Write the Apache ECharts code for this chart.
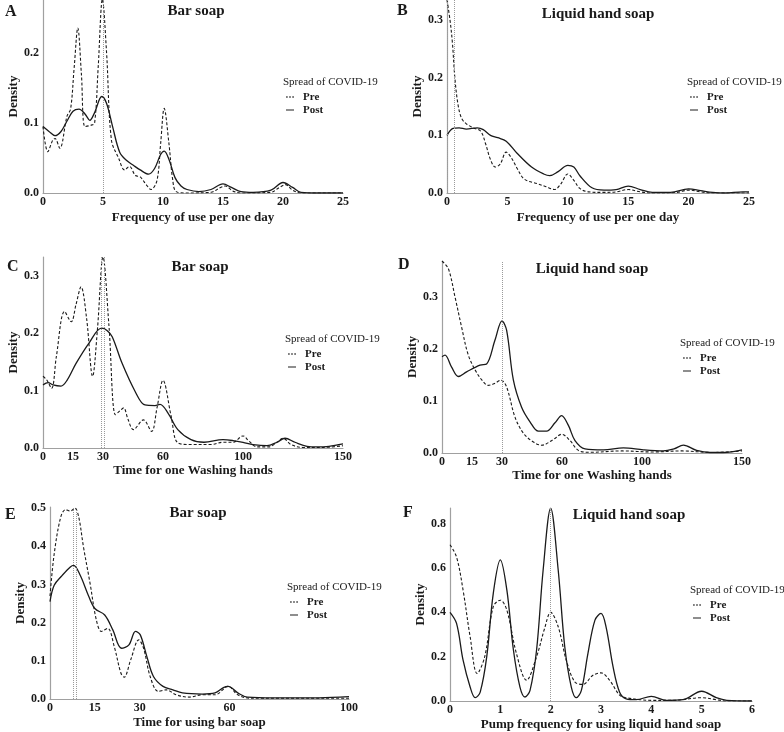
<!DOCTYPE html>
<html><head><meta charset="utf-8">
<script src="https://cdn.jsdelivr.net/npm/echarts@6/dist/echarts.min.js"></script>
<style>html,body{margin:0;padding:0;background:#fff}#c{width:784px;height:732px}</style>
</head><body><div id="c"></div>
<script>
// ---------- DATA ----------
const groupNames = ['Pre', 'Post'];
const legendTitle = 'Spread of COVID-19';
const panelLetters = ['A', 'B', 'C', 'D', 'E', 'F'];
const panelTitles = ['Bar soap', 'Liquid hand soap', 'Bar soap', 'Liquid hand soap', 'Bar soap', 'Liquid hand soap'];
const xNames = ['Frequency of use per one day', 'Frequency of use per one day', 'Time for one Washing hands', 'Time for one Washing hands', 'Time for using bar soap', 'Pump frequency for using liquid hand soap'];
const yName = 'Density';

const xTicksA = [0, 5, 10, 15, 20, 25];
const xTicksB = [0, 5, 10, 15, 20, 25];
const xTicksC = [0, 15, 30, 60, 100, 150];
const xTicksD = [0, 15, 30, 60, 100, 150];
const xTicksE = [0, 15, 30, 60, 100];
const xTicksF = [0, 1, 2, 3, 4, 5, 6];

const refA = [5];
const refB = [0, 0.6];
const refC = [29, 30.5];
const refD = [30];
const refE = [7.7, 8.7];
const refF = [2];

const aPre = [[0,0.095],[0.4,0.059],[0.8,0.075],[1,0.078],[1.4,0.064],[2,0.11],[2.3,0.12],[2.6,0.18],[2.9,0.236],[3.2,0.17],[3.5,0.095],[4,0.097],[4.3,0.1],[4.6,0.18],[4.95,0.277],[5.3,0.2],[5.7,0.076],[6.3,0.05],[6.8,0.033],[7.2,0.038],[7.7,0.025],[8.1,0.023],[8.6,0.012],[9,0.005],[9.5,0.018],[9.8,0.07],[10.1,0.121],[10.5,0.07],[10.8,0.02],[11.1,0.002],[12,0],[14,0.001],[14.8,0.008],[15.2,0.01],[15.8,0.003],[16.5,0],[19,0.001],[19.7,0.008],[20.2,0.012],[20.8,0.004],[21.5,0],[25,0]];
const aPost = [[0,0.095],[0.5,0.088],[1,0.082],[1.5,0.088],[2,0.103],[2.5,0.117],[3,0.12],[3.5,0.113],[3.9,0.104],[4.3,0.115],[4.9,0.138],[5.3,0.128],[5.8,0.095],[6.4,0.058],[7,0.046],[7.5,0.04],[8.1,0.033],[8.8,0.027],[9.3,0.035],[9.8,0.055],[10.1,0.06],[10.5,0.048],[11,0.022],[11.5,0.01],[12,0.005],[13,0.002],[14,0.005],[15,0.013],[15.7,0.008],[16.5,0.002],[17.5,0.001],[19,0.004],[20,0.015],[20.8,0.008],[21.5,0.001],[23,0],[25,0]];

const bPre = [[0,0.335],[0.25,0.3],[0.45,0.26],[0.65,0.2],[0.9,0.155],[1.2,0.13],[1.6,0.12],[2.2,0.113],[2.8,0.107],[3.2,0.085],[3.6,0.058],[4,0.045],[4.4,0.05],[4.9,0.071],[5.3,0.062],[5.8,0.043],[6.4,0.024],[7.5,0.016],[8.2,0.011],[8.9,0.006],[9.4,0.015],[10,0.033],[10.5,0.022],[11,0.008],[11.7,0.002],[13,0.001],[14,0.002],[15,0.006],[16,0.002],[17,0],[19,0.001],[20,0.005],[21,0.002],[22,0],[25,0]];
const bPost = [[0,0.1],[0.5,0.112],[1,0.113],[1.6,0.111],[2.5,0.113],[3,0.11],[3.6,0.1],[4.2,0.096],[4.9,0.09],[5.8,0.069],[7,0.045],[8,0.033],[8.5,0.03],[9.2,0.037],[10,0.048],[10.5,0.045],[11,0.03],[12,0.009],[13,0.005],[14,0.006],[15,0.012],[16,0.006],[17,0.001],[18.5,0.001],[20,0.007],[21,0.004],[22,0.001],[23,0],[24.5,0.002],[25,0.002]];

const cPre = [[0,0.125],[1.8,0.119],[4.3,0.104],[6.7,0.16],[10.8,0.238],[14.1,0.22],[16.5,0.25],[19,0.281],[21.8,0.226],[24.8,0.125],[27.2,0.206],[30,0.333],[33,0.212],[36.2,0.058],[38.5,0.065],[40.3,0.07],[42.5,0.05],[45.2,0.032],[50.2,0.049],[54.3,0.029],[57,0.07],[60,0.118],[64.1,0.055],[67.4,0.009],[74,0.006],[84,0.006],[90,0.01],[95,0.01],[100,0.021],[103,0.012],[107,0.002],[113,0.002],[117,0.01],[120,0.017],[124,0.006],[130,0.001],[140,0.001],[150,0.004]];
const cPost = [[0,0.11],[2.6,0.114],[5,0.11],[9,0.108],[12,0.118],[16.6,0.148],[23,0.183],[29.3,0.209],[32,0.205],[34.6,0.194],[39.5,0.148],[46,0.099],[51,0.075],[56,0.074],[58.5,0.076],[62.5,0.061],[67.4,0.032],[74,0.0145],[80.5,0.01],[90,0.0145],[95,0.013],[100,0.01],[105,0.006],[112,0.004],[117,0.01],[121,0.017],[126,0.01],[132,0.003],[137,0.002],[143,0.003],[150,0.007]];

const dPre = [[0,0.369],[3.2,0.354],[6.5,0.3],[9.8,0.242],[13,0.19],[16.5,0.16],[20,0.14],[23,0.13],[26,0.133],[29.5,0.14],[32.3,0.127],[36.5,0.069],[40.7,0.038],[45.7,0.021],[49.8,0.015],[55.7,0.026],[59.8,0.036],[64,0.024],[68.2,0.005],[74,0.0013],[90,0.004],[105,0.002],[120,0.004],[135,0.001],[150,0.004]];
const dPost = [[0,0.185],[1.5,0.188],[4.8,0.165],[8.2,0.147],[12.3,0.156],[19,0.169],[22.3,0.171],[26.5,0.217],[30,0.254],[32.3,0.236],[35.7,0.14],[39.8,0.088],[44,0.06],[48.2,0.042],[52.3,0.042],[56.5,0.058],[59.8,0.072],[63.2,0.053],[66.5,0.024],[71.5,0.008],[80.7,0.006],[90.7,0.01],[100.7,0.006],[110.7,0.004],[116,0.008],[120.7,0.015],[127.3,0.005],[134,0.001],[140.7,0.001],[150,0.006]];

const ePre = [[0,0.27],[1.4,0.38],[3.6,0.477],[5.2,0.496],[6.8,0.492],[8.3,0.5],[9.6,0.477],[11.2,0.398],[13.4,0.303],[15.5,0.207],[17.2,0.177],[19.3,0.185],[21.5,0.137],[23.7,0.068],[24.8,0.057],[27,0.103],[29.7,0.155],[31.3,0.133],[33.5,0.059],[36.2,0.02],[38.9,0.024],[42.2,0.011],[46.5,0.005],[50.9,0.011],[55.2,0.011],[59.6,0.033],[62.8,0.011],[67,0.002],[100,0.002]];
const ePost = [[0,0.255],[1.4,0.298],[4.1,0.324],[6.8,0.346],[7.9,0.35],[10.1,0.324],[12.8,0.272],[15,0.237],[18.3,0.22],[21,0.181],[23.9,0.133],[26.4,0.142],[28.6,0.177],[30.2,0.168],[32.4,0.111],[34.6,0.059],[37.8,0.033],[41.1,0.024],[44.3,0.016],[50.9,0.013],[55.2,0.016],[58,0.03],[59.6,0.033],[62.8,0.016],[66,0.005],[75,0.003],[90,0.003],[100,0.006]];

const fPre = [[0,0.705],[0.13,0.65],[0.26,0.5],[0.4,0.29],[0.54,0.124],[0.69,0.2],[0.86,0.426],[1,0.455],[1.13,0.41],[1.32,0.214],[1.52,0.094],[1.72,0.2],[1.88,0.328],[2,0.4],[2.15,0.335],[2.31,0.184],[2.48,0.086],[2.64,0.075],[2.84,0.116],[3,0.127],[3.17,0.094],[3.37,0.026],[3.5,0.015],[3.77,0.006],[4,0.003],[4.43,0.003],[5,0.015],[5.29,0.006],[5.5,0],[6,0]];
const fPost = [[0,0.4],[0.13,0.35],[0.26,0.184],[0.4,0.063],[0.5,0.015],[0.6,0.04],[0.73,0.2],[0.86,0.486],[1,0.637],[1.13,0.5],[1.26,0.23],[1.39,0.063],[1.49,0.018],[1.59,0.048],[1.72,0.23],[1.85,0.59],[2,0.87],[2.15,0.59],[2.28,0.245],[2.41,0.063],[2.51,0.015],[2.61,0.048],[2.74,0.214],[2.88,0.365],[3,0.395],[3.1,0.335],[3.24,0.154],[3.37,0.04],[3.5,0.01],[3.7,0.006],[4,0.021],[4.3,0.003],[4.63,0.006],[5,0.044],[5.29,0.015],[5.5,0.003],[6,0]];

// ---------- LAYOUT (not data) ----------
const FONT = '"Liberation Serif","Times New Roman",serif';
const panels = [
  {pre:aPre, post:aPost, ticks:xTicksA, refs:refA, xMax:25, xInt:5, yMax:0.276, yInt:0.1,
   grid:{left:43, top:0, width:300, height:193}, letter:[5,4], title:[196,3], leg:[283,76], nameGap:18},
  {pre:bPre, post:bPost, ticks:xTicksB, refs:refB, xMax:25, xInt:5, yMax:0.335, yInt:0.1,
   grid:{left:447, top:0, width:302, height:193}, letter:[397,3], title:[598,6], leg:[687,76], nameGap:18},
  {pre:cPre, post:cPost, ticks:xTicksC, refs:refC, xMax:150, xInt:5, yMax:0.333, yInt:0.1,
   grid:{left:43, top:257, width:300, height:191}, letter:[7,259], title:[200,259], leg:[285,333], nameGap:16},
  {pre:dPre, post:dPost, ticks:xTicksD, refs:refD, xMax:150, xInt:5, yMax:0.369, yInt:0.1,
   grid:{left:442, top:261, width:300, height:192}, letter:[398,257], title:[592,261], leg:[680,337], nameGap:14},
  {pre:ePre, post:ePost, ticks:xTicksE, refs:refE, xMax:100, xInt:5, yMax:0.503, yInt:0.1,
   grid:{left:50, top:507, width:299, height:192}, letter:[5,507], title:[198,505], leg:[287,581], nameGap:17},
  {pre:fPre, post:fPost, ticks:xTicksF, refs:refF, xMax:6, xInt:1, yMax:0.871, yInt:0.2,
   grid:{left:450, top:508, width:302, height:193}, letter:[403,505], title:[629,507], leg:[690,584], nameGap:17}
];

const ink = '#1a1a1a';
const axisGray = '#a0a0a0';
const preIcon = 'path://M0,0h2v1h-2zM3.5,0h2v1h-2zM7,0h2v1h-2z';
const postIcon = 'path://M0,0h9v1h-9z';
const option = {
  backgroundColor: '#fff',
  animation: false,
  grid: [], xAxis: [], yAxis: [], series: [], title: [], legend: []
};

panels.forEach((p, i) => {
  option.grid.push(Object.assign({outerBoundsMode: 'none', containLabel: false}, p.grid));
  const ticks = p.ticks;
  option.xAxis.push({
    type: 'value', gridIndex: i, min: 0, max: p.xMax, interval: p.xInt,
    name: xNames[i], nameLocation: 'middle', nameGap: p.nameGap,
    nameTextStyle: {fontFamily: FONT, fontWeight: 'bold', fontSize: 13, color: ink},
    axisLine: {show: true, onZero: false, lineStyle: {color: axisGray, width: 1.2}},
    axisTick: {show: false}, splitLine: {show: false},
    axisLabel: {margin: 3, fontFamily: FONT, fontWeight: 'bold', fontSize: 12, color: ink,
      formatter: v => ticks.some(t => Math.abs(t - v) < 1e-6) ? String(Math.round(v)) : ''}
  });
  const yi = p.yInt;
  option.yAxis.push({
    type: 'value', gridIndex: i, min: 0, max: p.yMax, interval: yi,
    name: yName, nameLocation: 'middle', nameGap: 23,
    nameTextStyle: {fontFamily: FONT, fontWeight: 'bold', fontSize: 13, color: ink},
    axisLine: {show: true, lineStyle: {color: axisGray, width: 1.2}},
    axisTick: {show: false}, splitLine: {show: false},
    axisLabel: {margin: 4, fontFamily: FONT, fontWeight: 'bold', fontSize: 12, color: ink,
      formatter: v => Math.abs(v / yi - Math.round(v / yi)) < 1e-6 ? v.toFixed(1) : ''}
  });
  option.series.push({
    type: 'line', name: groupNames[0], xAxisIndex: i, yAxisIndex: i, data: p.pre,
    smooth: 0.35, symbol: 'none', lineStyle: {color: ink, width: 1.1, type: [3, 2]}, itemStyle: {color: ink},
    markLine: {silent: true, symbol: ['none', 'none'], label: {show: false},
      lineStyle: {color: '#9a9a9a', type: [1, 1], width: 1},
      data: p.refs.map(r => ({xAxis: r}))}
  });
  option.series.push({
    type: 'line', name: groupNames[1], xAxisIndex: i, yAxisIndex: i, data: p.post,
    smooth: 0.35, symbol: 'none', lineStyle: {color: ink, width: 1.3, type: 'solid'}, itemStyle: {color: ink}
  });
  option.title.push({text: panelLetters[i], left: p.letter[0], top: p.letter[1], padding: 0,
    textStyle: {fontFamily: FONT, fontWeight: 'bold', fontSize: 16, color: ink, lineHeight: 16}});
  option.title.push({text: panelTitles[i], left: p.title[0], top: p.title[1], padding: 0, textAlign: 'center',
    textStyle: {fontFamily: FONT, fontWeight: 'bold', fontSize: 15, color: ink, lineHeight: 16}});
  option.title.push({text: legendTitle, left: p.leg[0], top: p.leg[1], padding: 0,
    textStyle: {fontFamily: FONT, fontWeight: 'normal', fontSize: 11, color: ink, lineHeight: 12}});
  option.legend.push({
    data: [{name: groupNames[0], icon: preIcon}, {name: groupNames[1], icon: postIcon}],
    orient: 'vertical', left: p.leg[0] + 3, top: p.leg[1] + 15, padding: 0,
    itemWidth: 8, itemHeight: 2, itemGap: 1, selectedMode: false,
    itemStyle: {color: '#000', borderWidth: 0},
    textStyle: {fontFamily: FONT, fontWeight: 'bold', fontSize: 11, color: ink, lineHeight: 12, padding: [0, 0, 0, 4]}
  });
});

const chart = echarts.init(document.getElementById('c'), null, {renderer: 'canvas'});
chart.setOption(option);
</script>
</body></html>
